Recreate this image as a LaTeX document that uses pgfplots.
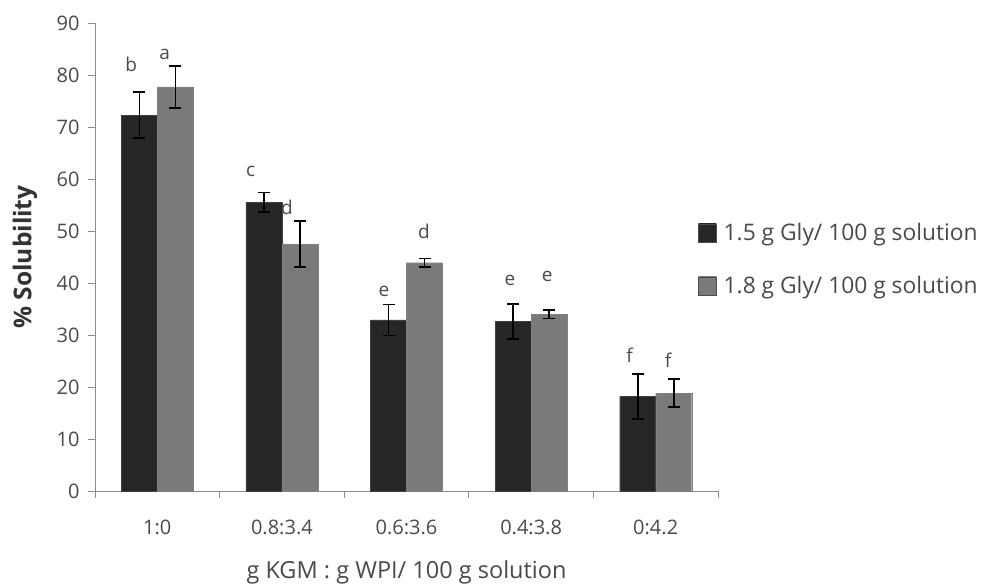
\documentclass[border=0pt]{standalone}
\usepackage{pgfplots}
\pgfplotsset{compat=1.18}
\usepackage{fontspec}
\setmainfont{Open Sans}
\definecolor{txt}{HTML}{4A4A4A}
\definecolor{axl}{HTML}{8C8C8C}
\pgfplotstableread{
x y e
0 72.3 4.4
1 55.5 1.9
2 32.9 3.0
3 32.6 3.4
4 18.2 4.3
}\darkdata
\pgfplotstableread{
x y e
0 77.7 4.0
1 47.5 4.4
2 43.9 0.8
3 34.0 0.8
4 18.8 2.7
}\lightdata
\begin{document}
\begin{tikzpicture}
\useasboundingbox (0,0) rectangle (988bp,587bp);
\begin{axis}[
  at={(95bp,96bp)}, anchor=south west,
  width=623bp, height=468bp, scale only axis,
  xmin=-0.5, xmax=4.5, ymin=0, ymax=90,
  clip=false,
  axis lines*=left,
  axis line style={axl, line width=0.8bp},
  tick style={axl, line width=0.8bp},
  tick align=outside,
  major tick length=7bp,
  xtick={-0.5,0.5,...,4.5},
  x tick label as interval,
  xticklabels={1:0,0.8:3.4,0.6:3.6,0.4:3.8,0:4.2},
  ytick={0,10,...,90},
  /pgf/number format/assume math mode=true,
  tick label style={font=\fontsize{20bp}{22bp}\selectfont, text=txt},
  xticklabel style={yshift=-18bp},
  yticklabel style={xshift=-5bp},
  xlabel={g KGM : g WPI/ 100 g solution},
  xlabel style={font=\fontsize{23.5bp}{26bp}\selectfont, text=txt, at={(0.5,0)}, anchor=center, yshift=-81bp},
  ylabel={\% Solubility},
  ylabel style={font=\fontsize{24.5bp}{27bp}\selectfont\bfseries, text=black!80, at={(0,0.5)}, anchor=center, rotate=0, yshift=70bp},
  ybar=0pt, bar width=36bp,
  legend style={at={(0.968,0.495)}, anchor=west, draw=none, fill=none, inner sep=0pt,
    font=\fontsize{22.8bp}{25bp}\selectfont, text=txt, row sep=30bp,
    /tikz/every odd column/.append style={column sep=5bp}},
  legend cell align=left,
  legend image code/.code={\draw[#1, draw=black!70] (0bp,-9bp) rectangle (18bp,9bp);},
  error bars/error bar style={line width=1.6bp, black},
  error bars/error mark options={rotate=90, mark size=6bp, line width=1.6bp, black},
]
\addplot[draw=black!75, left color=black!85, middle color=black!68, right color=black!85,
  error bars/.cd, y dir=both, y explicit]
  table[x=x, y=y, y error=e] {\darkdata};
\addplot[draw=black!50, left color=black!52, middle color=black!36, right color=black!52,
  error bars/.cd, y dir=both, y explicit]
  table[x=x, y=y, y error=e] {\lightdata};
\legend{1.5 g Gly/ 100 g solution, 1.8 g Gly/ 100 g solution}
\begin{scope}[every node/.style={font=\fontsize{19bp}{21bp}\selectfont, text=txt, inner sep=0pt}]
\node at (axis cs:-0.21,82.1) {b};
\node at (axis cs:0.06,84.0) {a};
\node at (axis cs:0.75,61.5) {c};
\node at (axis cs:1.04,54.5) {d};
\node at (axis cs:1.82,38.4) {e};
\node at (axis cs:2.14,50.0) {d};
\node at (axis cs:2.83,40.5) {e};
\node at (axis cs:3.13,41.3) {e};
\node at (axis cs:3.79,26.1) {f};
\node at (axis cs:4.10,25.1) {f};
\end{scope}
\end{axis}
\end{tikzpicture}
\end{document}
